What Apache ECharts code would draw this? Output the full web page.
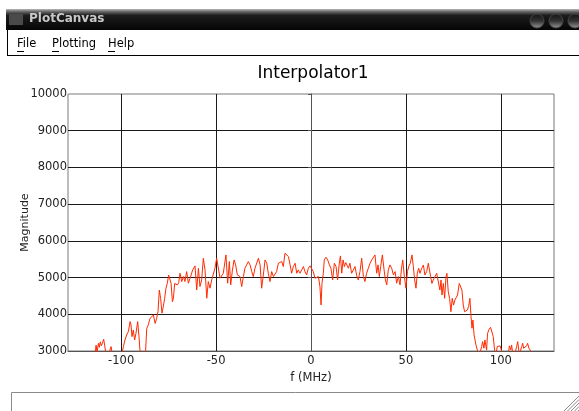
<!DOCTYPE html>
<html>
<head>
<meta charset="utf-8">
<script src="https://cdn.jsdelivr.net/npm/echarts@6/dist/echarts.min.js"></script>
<style>
html,body{margin:0;padding:0;background:#fff;}
#c{width:579px;height:411px;}
</style>
</head>
<body>
<div id="c"></div>
<script>
// ---- data ----
var chartTitle = 'Interpolator1';
var xName = 'f (MHz)';
var yName = 'Magnitude';
var menuItems = ['File', 'Plotting', 'Help'];

var freq = [
-128,-122,-117,-113.8,-113.2,-112.7,-112.0,-111.5,-111.0,-110.4,-109.9,-109.2,-108.7,-108.1,-107.6,-106.6,-105.9,-105.3,-104.8,-104.0,-102,-100.5,
-99.7,-98.8,-98.0,-97.1,-96.2,-95.3,-94.8,-94.3,-93.6,-92.9,-92.2,-91.3,-90.6,-90.1,-89.5,-88.3,-87.2,-86.5,-85.7,-84.8,-83.9,-83.0,-82.1,-81.3,
-80.6,-79.9,-79.2,-78.5,-77.8,-77.1,-76.4,-75.7,-75.0,-74.4,-73.7,-73.0,-72.5,-71.8,-71.1,-70.4,-69.7,
-69.0,-68.1,-67.2,-66.4,-65.5,-64.6,-63.7,-62.3,-61.1,-60.2,-59.3,-58.5,-57.6,-56.7,-55.8,-54.9,-54.1,-53.2,-52.3,-51.4,-50.6,-49.7,-48.8,-47.9,
-47.0,-46.2,-44.8,-43.9,-43.0,-42.3,-41.4,-40.5,-39.7,-38.8,-37.4,-36.5,-35.6,-34.8,-33.0,-32.1,-31.2,-30.4,-29.5,-27.7,-26.8,-26.0,-25.1,-24.2,
-23.3,-22.5,-21.6,-20.7,-19.8,-18.9,-18.1,-17.2,-16.3,-15.4,-14.6,-13.7,-12.8,-11.9,-11.0,-10.2,-9.3,-8.4,-7.5,-6.7,
-5.8,-4.9,-4.0,-3.2,-2.3,-1.4,-0.5,0.3,1.2,2.1,3.0,3.9,4.7,5.3,5.8,6.5,7.0,7.9,8.8,9.7,10.5,11.4,12.3,13.2,14.0,14.9,15.5,16.2,16.9,17.6,18.3,
19.0,19.7,20.5,21.4,22.3,23.2,24.1,24.9,25.8,26.7,27.6,28.4,29.3,30.2,31.1,32.0,32.8,33.7,34.6,35.3,36.0,36.7,37.6,38.5,39.2,39.9,40.7,41.6,
42.5,43.4,44.3,45.1,46.0,46.9,47.6,48.3,49.2,50.0,50.8,51.5,52.3,53.2,53.9,54.6,55.3,56.0,56.7,
57.4,58.3,59.2,60.0,60.9,61.8,62.3,63.0,63.7,64.4,65.3,66.2,67.1,67.9,68.5,69.0,69.7,70.4,71.1,71.6,72.3,73.0,73.7,74.4,75.1,75.8,76.5,77.2,
78.1,78.8,79.5,80.2,80.9,81.6,82.3,83.0,83.7,84.3,84.8,85.3,85.9,86.4,86.9,87.6,88.1,88.7,89.4,89.9,90.4,91.1,91.6,92.5,93.0,93.8,94.6,95.5,
96.0,96.7,97.4,98.1,98.9,99.6,100.3,101.0,102.7,103.9,104.5,105.2,105.7,106.2,107.5,108.3,108.9,109.4,109.9,111.0,111.5,112.0,112.7,113.6,
114.1,114.8,115.3,115.9,116.4,118,122,128
];
var magnitude = [
2400,2600,2750,2900,3160,2950,3210,3100,3250,3140,3210,3320,3160,2950,2900,2850,3030,3120,2950,2800,2600,2700,
2900,3120,3300,3435,3530,3800,3710,3390,3570,3300,3480,3800,3390,3030,2890,2850,2940,3620,3710,3890,3840,3980,3750,3890,
4070,4660,4430,4030,4210,4430,4710,4840,5070,5120,4840,4340,4430,4840,4890,4800,4860,
5118,4891,5027,4891,5163,4846,4982,5209,5318,4664,5254,4755,4936,5527,5200,4437,4891,4710,4936,4982,5254,5527,5481,4982,
5027,5118,5617,4846,5436,4800,5200,5481,5345,5073,5027,4755,5027,5254,5436,5345,5163,5027,5254,5527,5345,4710,5073,5481,
5390,5118,4891,5163,5027,4982,5163,5390,5345,5436,5300,5663,5663,5572,5345,5118,5300,5390,5118,5209,
5118,5209,5300,5163,5073,5254,5318,5300,5163,4982,4936,5027,4755,4255,4846,5118,5481,5554,5481,5345,5254,4936,5390,5300,4936,5390,5590,5118,5481,5300,5409,
5463,5254,5390,5118,5163,5300,5045,4936,5163,5527,5027,4891,5118,5254,5390,5481,5527,5617,5118,5345,5027,5300,5617,5209,4936,4800,5209,5345,
5254,5073,5163,4846,5027,4800,5209,5481,5027,4710,5163,5300,5390,5617,5300,4936,4710,5118,5254,
5116,5250,5343,5070,5160,5390,5430,5025,4840,4935,5025,5116,5116,4660,4935,4525,4840,4435,5025,5116,4615,4435,4070,4435,4250,4390,4345,4525,
4840,4840,4660,4250,4070,4045,4115,4210,4435,3935,3620,3845,3435,3300,3165,3025,3000,2890,2890,3120,3255,3075,3300,3025,3480,3590,3645,3620,
3390,3025,2890,3120,3165,3140,3025,2890,2890,2890,3140,3030,3165,2940,2940,3120,3255,3030,2940,3120,3210,3075,3030,3140,
3210,3075,3120,2985,2890,2750,2600,2400
];

var pts = freq.map(function (f, i) { return [f, magnitude[i]]; });

var FONT = 'DejaVu Sans';
var chart = echarts.init(document.getElementById('c'), null, {renderer: 'canvas'});

// window chrome (title bar, menu bar, status box)
var btnFill = function () {
  return new echarts.graphic.LinearGradient(0, 0, 0, 1, [{offset: 0, color: '#111'}, {offset: 0.5, color: '#333'}, {offset: 1, color: '#9a9a9a'}]);
};
var chrome = [
  {type: 'rect', shape: {x: 6, y: 9, width: 573, height: 21},
   style: {fill: new echarts.graphic.LinearGradient(0, 0, 0, 1, [
     {offset: 0, color: '#b8b8b8'}, {offset: 0.12, color: '#6a6a6a'},
     {offset: 0.3, color: '#1c1c1c'}, {offset: 1, color: '#050505'}])}, silent: true},
  {type: 'rect', shape: {x: 9, y: 14, width: 14, height: 11}, style: {fill: '#4a4a4a'}, silent: true},
  {type: 'text', x: 29, y: 19, style: {text: 'PlotCanvas', fill: '#c8c8c8', font: 'bold 12px "' + FONT + '"', verticalAlign: 'middle'}, silent: true},
  {type: 'circle', shape: {cx: 537, cy: 21, r: 7}, style: {fill: btnFill(), stroke: '#444'}, silent: true},
  {type: 'circle', shape: {cx: 556, cy: 21, r: 7}, style: {fill: btnFill(), stroke: '#444'}, silent: true},
  {type: 'circle', shape: {cx: 575, cy: 21, r: 7}, style: {fill: btnFill(), stroke: '#444'}, silent: true},
  {type: 'line', shape: {x1: 7.5, y1: 30, x2: 7.5, y2: 56}, style: {stroke: '#000', lineWidth: 1}, silent: true},
  {type: 'line', shape: {x1: 7, y1: 55.5, x2: 579, y2: 55.5}, style: {stroke: '#000', lineWidth: 1}, silent: true},
  {type: 'rect', shape: {x: 11.5, y: 392.5, width: 580, height: 30}, style: {fill: '#fff', stroke: '#8a8a8a', lineWidth: 1}, silent: true},
  {type: 'text', x: 313, y: 74, style: {text: chartTitle, fill: '#000', font: '17px "' + FONT + '"', align: 'center', verticalAlign: 'middle'}, silent: true}
];
var menuX = [17, 52, 108];
menuItems.forEach(function (m, i) {
  chrome.push({type: 'text', x: menuX[i], y: 44, style: {text: m, fill: '#000', font: '11.5px "' + FONT + '"', verticalAlign: 'middle'}, silent: true});
  chrome.push({type: 'line', shape: {x1: menuX[i], y1: 51.5, x2: menuX[i] + 7, y2: 51.5}, style: {stroke: '#000', lineWidth: 1}, silent: true});
});
for (var k = 0; k < 5; k++) {
  chrome.push({type: 'line', shape: {x1: 579, y1: 396 + k * 3.5, x2: 564 + k * 3.5, y2: 411}, style: {stroke: '#8a8a8a', lineWidth: 1}, silent: true});
}

chart.setOption({
  animation: false,
  backgroundColor: '#fff',
  grid: {left: 68, right: 25, top: 94, bottom: 60, show: true, borderColor: '#7a7a7a', borderWidth: 1, backgroundColor: 'transparent'},
  xAxis: {
    type: 'value', min: -128, max: 128, splitNumber: 5,
    name: xName, nameLocation: 'middle', nameGap: 19,
    nameTextStyle: {fontFamily: FONT, fontSize: 11.5, color: '#222'},
    axisLine: {lineStyle: {color: '#555', width: 1}},
    axisTick: {show: false},
    axisLabel: {fontFamily: FONT, fontSize: 11.5, color: '#222', margin: 4, showMinLabel: false, showMaxLabel: false},
    splitLine: {show: true, showMinLine: false, showMaxLine: false, lineStyle: {color: '#1a1a1a', width: 1}}
  },
  yAxis: {
    type: 'value', min: 3000, max: 10000, interval: 1000,
    name: yName, nameLocation: 'middle', nameGap: 37, nameMoveOverlap: false,
    nameTextStyle: {fontFamily: FONT, fontSize: 11, color: '#222'},
    axisLine: {show: true, lineStyle: {color: '#555', width: 1}},
    axisTick: {show: true, length: 3, lineStyle: {color: '#555'}},
    axisLabel: {fontFamily: FONT, fontSize: 11.5, color: '#222', margin: 1,
      formatter: function (v) { return String(v); }},
    splitLine: {show: true, showMinLine: false, showMaxLine: false, lineStyle: {color: '#1a1a1a', width: 1}}
  },
  series: [{
    type: 'line', data: pts, symbol: 'none', clip: true,
    lineStyle: {color: '#ff2a00', width: 1}
  }],
  graphic: chrome
});
</script>
</body>
</html>
